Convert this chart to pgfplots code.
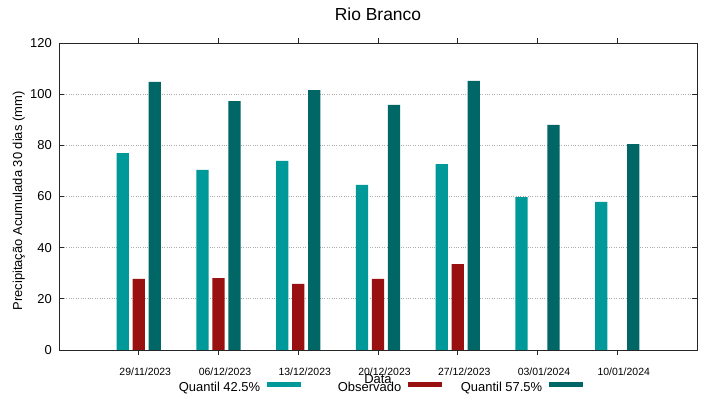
\documentclass[border=0pt]{standalone}
\usepackage{fontspec}
\setmainfont{Liberation Sans}
\usepackage{pgfplots}
\pgfplotsset{compat=1.18}
\definecolor{qlow}{RGB}{0,153,153}
\definecolor{obs}{RGB}{153,16,16}
\definecolor{qhigh}{RGB}{0,102,102}
\begin{document}
\begin{tikzpicture}
\path (0,0) rectangle (719bp,399bp);
\begin{axis}[
  at={(59bp,49bp)}, anchor=south west,
  scale only axis, width=638bp, height=307bp,
  xmin=-1, xmax=7, ymin=0, ymax=120,
  ytick={0,20,...,120},
  xtick={0,...,6},
  xticklabels={29/11/2023,06/12/2023,13/12/2023,20/12/2023,27/12/2023,03/01/2024,10/01/2024},
  /pgf/number format/assume math mode=true,
  tick align=inside, major tick length=5bp,
  tick style={black!85, line width=0.7bp},
  axis line style={black!85, line width=0.9bp},
  ymajorgrids, grid style={dotted, gray!65, line width=0.7bp},
  yticklabel style={font=\fontsize{13}{15}\selectfont, inner sep=0pt, xshift=-7bp},
  xticklabel style={font=\fontsize{10.5}{12}\selectfont, anchor=base, inner sep=0pt, yshift=-20.7bp, xshift=6.5bp},
  ybar, bar width=0.155,
  every axis plot post/.append style={legend image code/.code={\fill[##1] (0bp,1.5bp) rectangle (34bp,6.5bp);}},
  legend columns=3, legend plot pos=right,
  legend style={draw=none, fill=none, at={(0.1693,-0.1221)}, anchor=west, inner sep=0pt,
    font=\fontsize{13}{15}\selectfont, column sep=7bp, nodes={inner sep=0pt}},
]
\addplot[fill=qlow, draw=none, bar shift=-0.2] coordinates {(0,77.0) (1,70.4) (2,73.9) (3,64.5) (4,72.7) (5,59.8) (6,57.9)};
\addlegendentry{\makebox[93bp][r]{Quantil 42.5\%}}
\addplot[fill=obs, draw=none, bar shift=0] coordinates {(0,27.8) (1,28.1) (2,25.8) (3,27.8) (4,33.6)};
\addlegendentry{\makebox[93bp][r]{Observado}}
\addplot[fill=qhigh, draw=none, bar shift=0.2] coordinates {(0,104.8) (1,97.3) (2,101.6) (3,95.8) (4,105.2) (5,88.0) (6,80.5)};
\addlegendentry{\makebox[93bp][r]{Quantil 57.5\%}}
\end{axis}
\node[anchor=base, font=\fontsize{17.5}{20}\selectfont] at (378bp,378bp) {Rio Branco};
\node[anchor=base, font=\fontsize{13}{15}\selectfont, inner sep=0pt] at (378bp,16bp) {Data};
\node[rotate=90, anchor=base, font=\fontsize{13}{15}\selectfont, inner sep=0pt] at (22bp,198bp) {Precipitação Acumulada 30 dias (mm)};
\end{tikzpicture}
\end{document}
